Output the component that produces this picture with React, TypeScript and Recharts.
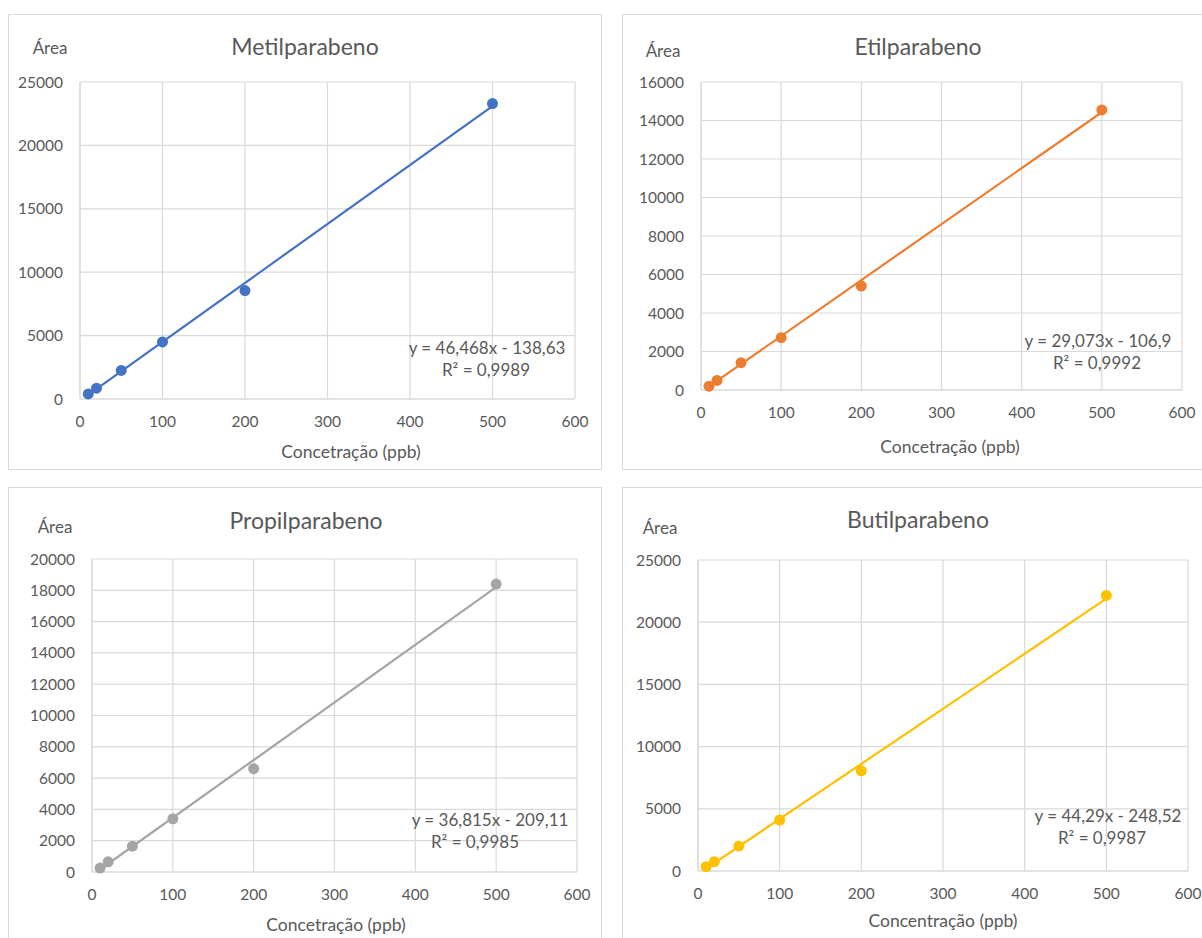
import React from 'react';
import { ScatterChart, Scatter, XAxis, YAxis, CartesianGrid, ReferenceLine } from 'recharts';

// ---- data ----
const concentrations = [10, 20, 50, 100, 200, 500];
const metilAreas = [400, 850, 2250, 4500, 8550, 23300];
const etilAreas = [200, 500, 1420, 2720, 5400, 14550];
const propilAreas = [250, 650, 1650, 3400, 6600, 18400];
const butilAreas = [350, 750, 2000, 4100, 8050, 22150];

const xTicks = [0, 100, 200, 300, 400, 500, 600];
const metilTicks = [0, 5000, 10000, 15000, 20000, 25000];
const etilTicks = [0, 2000, 4000, 6000, 8000, 10000, 12000, 14000, 16000];
const propilTicks = [0, 2000, 4000, 6000, 8000, 10000, 12000, 14000, 16000, 18000, 20000];
const butilTicks = [0, 5000, 10000, 15000, 20000, 25000];

const titles = ['Metilparabeno', 'Etilparabeno', 'Propilparabeno', 'Butilparabeno'];
const xTitles = ['Concetração (ppb)', 'Concetração (ppb)', 'Concetração (ppb)', 'Concentração (ppb)'];
const yTitle = 'Área';
const equations = ['y = 46,468x - 138,63', 'y = 29,073x - 106,9', 'y = 36,815x - 209,11', 'y = 44,29x - 248,52'];
const r2Labels = ['R² = 0,9989', 'R² = 0,9992', 'R² = 0,9985', 'R² = 0,9987'];
const slopes = [46.468, 29.073, 36.815, 44.29];
const intercepts = [-138.63, -106.9, -209.11, -248.52];
const seriesColors = ['#4472C4', '#ED7D31', '#A5A5A5', '#FFC000'];

const allAreas = [metilAreas, etilAreas, propilAreas, butilAreas];
const allTicks = [metilTicks, etilTicks, propilTicks, butilTicks];

// ---- layout (page coordinates) ----
const layouts = [
  { frame: { l: 8, t: 14, w: 594, h: 456 }, plot: { l: 80, t: 82, r: 575, b: 399 },
    title: [305, 46], ytitle: [50, 47], xtitle: [351, 452], eq: [487, 347], r2: [486, 369] },
  { frame: { l: 622, t: 14, w: 600, h: 456 }, plot: { l: 701, t: 82, r: 1182, b: 390 },
    title: [918, 46], ytitle: [663, 50], xtitle: [950, 447], eq: [1098, 340], r2: [1097, 362] },
  { frame: { l: 8, t: 487, w: 594, h: 470 }, plot: { l: 92, t: 559, r: 577, b: 872 },
    title: [306, 520], ytitle: [55, 526], xtitle: [336, 925], eq: [490, 819], r2: [475, 841] },
  { frame: { l: 622, t: 487, w: 600, h: 470 }, plot: { l: 698, t: 560, r: 1188, b: 871 },
    title: [918, 519], ytitle: [660, 527], xtitle: [943, 921], eq: [1108, 815], r2: [1102, 837] },
];

const FONT = 'Lato, "Open Sans", sans-serif';
const TEXT = '#595959';
const GRID = '#d9d9d9';
const Y_AXIS_W = 60;
const X_AXIS_H = 30;

function Txt({ x, y, size, children }: { x: number; y: number; size: number; children: React.ReactNode }) {
  return (
    <div style={{ position: 'absolute', left: x, top: y, transform: 'translate(-50%, -50%)', fontSize: size,
      color: TEXT, fontFamily: FONT, whiteSpace: 'nowrap', lineHeight: 1 }}>{children}</div>
  );
}

function Panel({ i }: { i: number }) {
  const L = layouts[i];
  const { frame, plot } = L;
  const data = concentrations.map((c, k) => ({ x: c, y: allAreas[i][k] }));
  const ticks = allTicks[i];
  const yMax = ticks[ticks.length - 1];
  const xMin = concentrations[0];
  const xMax = concentrations[concentrations.length - 1];
  const margin = {
    left: plot.l - frame.l - Y_AXIS_W,
    top: plot.t - frame.t,
    right: frame.l + frame.w - plot.r,
    bottom: frame.t + frame.h - plot.b - X_AXIS_H,
  };
  const tickStyle = { fill: TEXT, fontSize: 15.5, fontFamily: FONT };
  return (
    <>
      <div style={{ position: 'absolute', left: frame.l, top: frame.t, width: frame.w, height: frame.h,
        border: `1px solid ${GRID}`, boxSizing: 'border-box', background: '#fff' }} />
      <div style={{ position: 'absolute', left: frame.l, top: frame.t }}>
        <ScatterChart width={frame.w} height={frame.h} margin={margin}>
          <CartesianGrid stroke={GRID} strokeWidth={1.2} horizontalValues={ticks} verticalValues={xTicks} />
          <XAxis type="number" dataKey="x" domain={[0, 600]} ticks={xTicks} height={X_AXIS_H}
            tick={tickStyle} tickLine={false} axisLine={{ stroke: GRID }} tickMargin={11} interval={0} />
          <YAxis type="number" dataKey="y" domain={[0, yMax]} ticks={ticks} width={Y_AXIS_W}
            tick={tickStyle} tickLine={false} axisLine={{ stroke: GRID }} tickMargin={11} interval={0} />
          <Scatter data={data} fill={seriesColors[i]} isAnimationActive={false}
            shape={(p: any) => <circle cx={p.cx} cy={p.cy} r={5.5} fill={seriesColors[i]} />} />
          <ReferenceLine stroke={seriesColors[i]} strokeWidth={2.2}
            segment={[{ x: xMin, y: slopes[i] * xMin + intercepts[i] }, { x: xMax, y: slopes[i] * xMax + intercepts[i] }]} />
        </ScatterChart>
      </div>
      <Txt x={L.title[0]} y={L.title[1]} size={23}>{titles[i]}</Txt>
      <Txt x={L.ytitle[0]} y={L.ytitle[1]} size={17}>{yTitle}</Txt>
      <Txt x={L.xtitle[0]} y={L.xtitle[1]} size={17.5}>{xTitles[i]}</Txt>
      <Txt x={L.eq[0]} y={L.eq[1]} size={17}>{equations[i]}</Txt>
      <Txt x={L.r2[0]} y={L.r2[1]} size={17}>{r2Labels[i]}</Txt>
    </>
  );
}

export default function App() {
  return (
    <div style={{ position: 'absolute', left: 0, top: 0, width: 1202, height: 938, overflow: 'hidden', background: '#fff' }}>
      {[0, 1, 2, 3].map((i) => <Panel key={i} i={i} />)}
    </div>
  );
}
